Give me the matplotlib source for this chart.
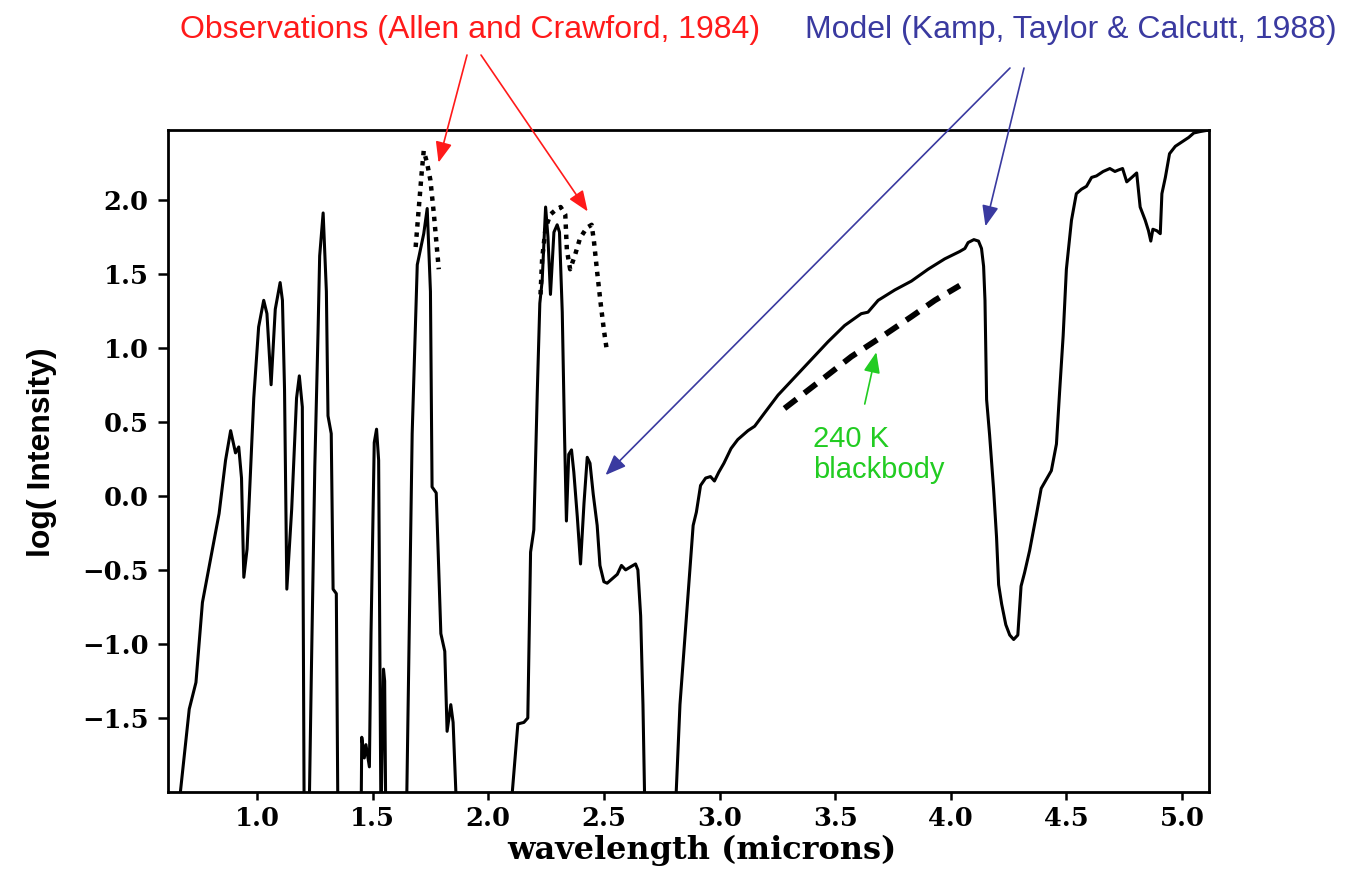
"""Venus nightside near-IR spectrum: model vs observations, with 240 K blackbody."""
import matplotlib
matplotlib.use("Agg")
import matplotlib.pyplot as plt
import numpy as np

BLACK = "#000000"
RED = "#ff1a1a"
BLUE = "#3a3aa0"
GREEN = "#22cc22"

# ── data (wavelength in microns, log intensity) ──────────────────────────
# -2.5 marks points that fall below the plotted range (clipped by the axes)
model_wl = [
    0.610, 0.655, 0.707, 0.736, 0.764, 0.807, 0.836, 0.864, 0.886, 0.907,
    0.921, 0.933, 0.943, 0.957, 0.986, 1.007, 1.029, 1.043, 1.061, 1.079,
    1.100, 1.110, 1.119, 1.129, 1.150, 1.171, 1.183, 1.196, 1.204, 1.215,
    1.225, 1.235, 1.250, 1.264, 1.271, 1.286, 1.300, 1.307, 1.321, 1.329,
    1.343, 1.350, 1.360, 1.445, 1.450, 1.453, 1.464, 1.471, 1.486, 1.493,
    1.507, 1.517, 1.526, 1.536, 1.547, 1.552, 1.557, 1.565, 1.640, 1.647,
    1.671, 1.693, 1.721, 1.736, 1.750, 1.757, 1.775, 1.795, 1.812, 1.822,
    1.838, 1.848, 1.865, 1.875, 2.100, 2.104, 2.128, 2.154, 2.171, 2.183,
    2.197, 2.212, 2.223, 2.233, 2.248, 2.258, 2.269, 2.284, 2.298, 2.308,
    2.320, 2.330, 2.338, 2.348, 2.360, 2.370, 2.385, 2.399, 2.414, 2.428,
    2.440, 2.454, 2.471, 2.483, 2.500, 2.514, 2.536, 2.558, 2.576, 2.594,
    2.615, 2.637, 2.647, 2.659, 2.669, 2.678, 2.690, 2.800, 2.810, 2.829,
    2.853, 2.872, 2.886, 2.900, 2.918, 2.940, 2.961, 2.978, 2.997, 3.019,
    3.050, 3.079, 3.123, 3.152, 3.195, 3.253, 3.325, 3.397, 3.469, 3.541,
    3.613, 3.642, 3.686, 3.758, 3.830, 3.902, 3.974, 4.039, 4.061, 4.075,
    4.100, 4.120, 4.133, 4.142, 4.148, 4.155, 4.168, 4.185, 4.198, 4.207,
    4.220, 4.238, 4.255, 4.272, 4.290, 4.304, 4.319, 4.341, 4.370, 4.391,
    4.413, 4.435, 4.457, 4.471, 4.486, 4.500, 4.522, 4.543, 4.565, 4.587,
    4.609, 4.630, 4.659, 4.688, 4.710, 4.725, 4.743, 4.761, 4.783, 4.804,
    4.819, 4.841, 4.855, 4.865, 4.874, 4.891, 4.906, 4.913, 4.928, 4.946,
    4.971, 5.000, 5.029, 5.051, 5.080, 5.117,
]
model_logi = [
    -2.50, -2.20, -1.44, -1.26, -0.72, -0.36, -0.12, 0.24, 0.44, 0.29,
    0.33, 0.12, -0.55, -0.36, 0.66, 1.14, 1.32, 1.23, 0.75, 1.26,
    1.44, 1.32, 0.72, -0.63, -0.09, 0.66, 0.81, 0.60, -2.20, -2.50,
    -2.20, -1.20, 0.20, 1.11, 1.62, 1.91, 1.38, 0.54, 0.42, -0.63,
    -0.66, -2.20, -2.50, -2.50, -2.20, -1.63, -1.77, -1.68, -1.83, -0.93,
    0.36, 0.45, 0.24, -2.20, -1.17, -1.25, -2.20, -2.50, -2.50, -2.10,
    0.42, 1.56, 1.77, 1.94, 1.38, 0.06, 0.02, -0.93, -1.05, -1.59,
    -1.41, -1.53, -2.20, -2.50, -2.50, -2.00, -1.54, -1.53, -1.50, -0.38,
    -0.23, 0.70, 1.30, 1.45, 1.95, 1.75, 1.36, 1.78, 1.83, 1.78,
    1.24, 0.40, -0.17, 0.28, 0.31, 0.16, -0.14, -0.46, -0.05, 0.26,
    0.22, 0.01, -0.20, -0.47, -0.58, -0.59, -0.56, -0.53, -0.47, -0.50,
    -0.48, -0.46, -0.50, -0.81, -1.41, -2.20, -2.50, -2.50, -2.10, -1.41,
    -0.90, -0.50, -0.20, -0.11, 0.07, 0.12, 0.13, 0.10, 0.16, 0.22,
    0.32, 0.38, 0.44, 0.47, 0.56, 0.68, 0.80, 0.92, 1.04, 1.15,
    1.23, 1.24, 1.32, 1.39, 1.45, 1.53, 1.60, 1.65, 1.67, 1.71,
    1.73, 1.72, 1.67, 1.55, 1.32, 0.65, 0.41, 0.05, -0.28, -0.60,
    -0.73, -0.87, -0.94, -0.97, -0.94, -0.61, -0.52, -0.37, -0.13, 0.05,
    0.11, 0.17, 0.35, 0.71, 1.08, 1.53, 1.86, 2.04, 2.07, 2.09,
    2.15, 2.16, 2.19, 2.21, 2.19, 2.20, 2.21, 2.12, 2.15, 2.18,
    1.95, 1.86, 1.79, 1.72, 1.80, 1.79, 1.77, 2.04, 2.15, 2.31,
    2.36, 2.39, 2.42, 2.45, 2.46, 2.47,
]

# Allen & Crawford (1984) observations, two windows separated by NaN
obs_wl = [1.686, 1.700, 1.712, 1.721, 1.735, 1.750, 1.765, 1.786, np.nan,
          2.226, 2.233, 2.248, 2.269, 2.291, 2.313, 2.333, 2.340, 2.354,
          2.376, 2.397, 2.426, 2.447, 2.457, 2.471, 2.486, 2.500, 2.514]
obs_logi = [1.68, 1.95, 2.18, 2.33, 2.25, 2.13, 1.90, 1.53, np.nan,
            1.36, 1.60, 1.81, 1.90, 1.93, 1.95, 1.90, 1.66, 1.53,
            1.63, 1.74, 1.81, 1.83, 1.72, 1.51, 1.30, 1.12, 0.97]

# 240 K blackbody
bb_wl = [3.281, 3.455, 3.570, 3.707, 3.830, 3.931, 4.039]
bb_logi = [0.59, 0.80, 0.94, 1.08, 1.21, 1.32, 1.42]

x_ticks = [1.0, 1.5, 2.0, 2.5, 3.0, 3.5, 4.0, 4.5, 5.0]
y_ticks = [-1.5, -1.0, -0.5, 0.0, 0.5, 1.0, 1.5, 2.0]

TICK_FONT = dict(family="DejaVu Serif", weight="bold", size=18.5)
NOTE_FONT = ["Liberation Sans", "DejaVu Sans"]

fig = plt.figure(figsize=(13.47, 8.72), dpi=100, facecolor="white")
ax = fig.add_axes([0.1247, 0.0917, 0.7729, 0.7592])
ax.set_xlim(0.615, 5.117)
ax.set_ylim(-2.0, 2.47)

ax.plot(model_wl, model_logi, color=BLACK, lw=2.2, solid_joinstyle="round")
ax.plot(obs_wl, obs_logi, color=BLACK, lw=3.2, ls=(0, (1.0, 1.3)))
ax.plot(bb_wl, bb_logi, color=BLACK, lw=4.2, ls=(0, (2.6, 1.7)))

for s in ax.spines.values():
    s.set_linewidth(2.0)
ax.set_xticks(x_ticks)
ax.set_yticks(y_ticks)
ax.set_xticklabels([f"{v:.1f}" for v in x_ticks], fontdict=TICK_FONT)
ax.set_yticklabels([f"{v:.1f}".replace("-", "\u2212") for v in y_ticks],
                   fontdict=TICK_FONT)
ax.tick_params(axis="x", direction="out", length=6, width=1.8, pad=4)
ax.tick_params(axis="y", direction="out", length=7, width=1.8, pad=7)

fig.text(0.521, 0.025, "wavelength (microns)", ha="center", va="center",
         family="DejaVu Serif", weight="bold", size=23)
fig.text(0.031, 0.482, "log( Intensity)", ha="center", va="center",
         rotation=90, family=["Liberation Sans", "DejaVu Sans"],
         weight="bold", size=23)

# ── annotations ──────────────────────────────────────────────────────────
fig.text(0.349, 0.9656, "Observations (Allen and Crawford, 1984)",
         ha="center", va="center", color=RED, family=NOTE_FONT, size=23)
fig.text(0.795, 0.9656, "Model (Kamp, Taylor & Calcutt, 1988)",
         ha="center", va="center", color=BLUE, family=NOTE_FONT, size=23)
ax.text(3.404, 0.28, "240 K\nblackbody", ha="left", va="center",
        color=GREEN, family=NOTE_FONT, size=21, linespacing=1.15)

ARROW = "-|>,head_length=0.7,head_width=0.28"


def arrow(tip, start, color, start_coords="figure fraction"):
    ax.annotate("", xy=tip, xycoords="data", xytext=start,
                textcoords=start_coords, annotation_clip=False,
                arrowprops=dict(arrowstyle=ARROW, color=color, lw=1.2,
                                shrinkA=0, shrinkB=0, mutation_scale=18))


arrow((1.785, 2.25), (0.3467, 0.9369), RED)
arrow((2.430, 1.92), (0.3571, 0.9369), RED)
arrow((2.507, 0.14), (0.7498, 0.9220), BLUE)
arrow((4.150, 1.82), (0.7602, 0.9220), BLUE)
arrow((3.678, 0.97), (3.628, 0.62), GREEN, start_coords="data")

fig.savefig("out.png", dpi=100, facecolor="white")
